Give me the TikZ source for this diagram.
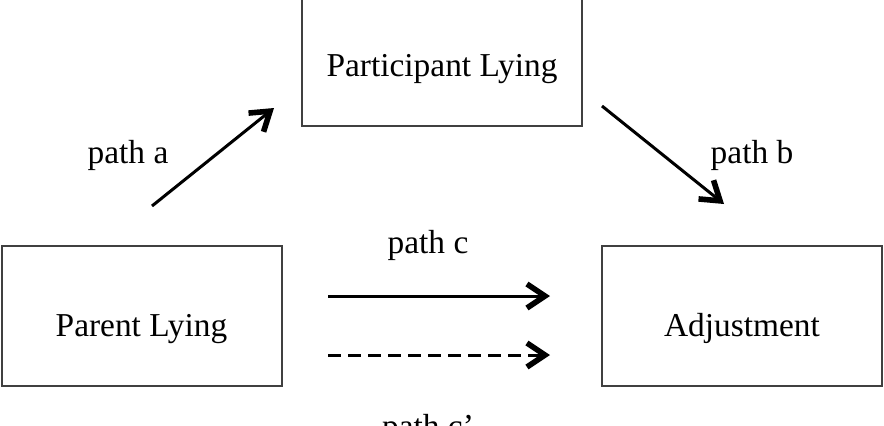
\documentclass[tikz,border=0pt]{standalone}
\usepackage{fontspec}
\setmainfont{Liberation Serif}
\usetikzlibrary{
        arrows.meta,
        positioning
    }
\tikzset{>={Straight Barb[length=9pt,width=12pt,line width=2.8pt]}}
\tikzset{var/.style={draw=black!75,line width=1pt,minimum width=140pt,minimum height=70pt,inner sep=0pt,text height=22pt,text depth=2pt}}

\begin{document}
\begin{tikzpicture}[x=0.5pt,y=-0.5pt,font=\fontsize{16.7}{20}\selectfont,line width=1.5pt]
                \clip (0,0) rectangle (884,425);
                \node[var] (p) at (442,56)  {Participant Lying};
                \node[var] (x) at (141.5,316) {Parent Lying};
                \node[var] (y) at (742,316) {Adjustment};
                \coordinate (a1) at (152,206);
                \coordinate (a2) at (274,108);
                \coordinate (b1) at (602,106);
                \coordinate (b2) at (724,204);
                \coordinate (c1) at (328,296);
                \coordinate (c2) at (550,296);
                \coordinate (d1) at (328,355);
                \coordinate (d2) at (550,355);
                \path[->]
                    (a1) edge (a2)
                    (b1) edge (b2)
                    (c1) edge (c2)
                    (d1) edge [dash pattern=on 6.5pt off 3.5pt] (d2)
                ;
                \node at (128,155) {path a};
                \node at (752,155) {path b};
                \node at (428,245) {path c};
                \node at (428,429) {path c’};
            \end{tikzpicture}
\end{document}
